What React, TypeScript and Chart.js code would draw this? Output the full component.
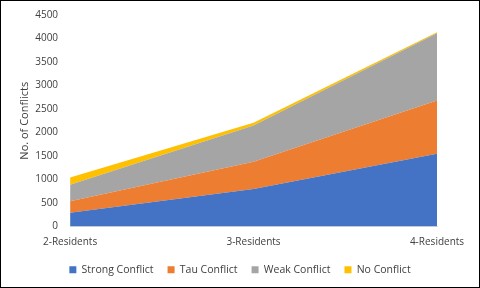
import React, { useEffect, useRef } from "react";
import { Chart, registerables } from "chart.js";

Chart.register(...registerables);

const categories = ["2-Residents", "3-Residents", "4-Residents"];
const strongConflict = [295, 800, 1550];
const tauConflict = [240, 580, 1130];
const weakConflict = [355, 770, 1430];
const noConflict = [150, 60, 25];
const yTicks = [0, 500, 1000, 1500, 2000, 2500, 3000, 3500, 4000, 4500];

const FONT = "'Open Sans', 'Noto Sans', sans-serif";

export default function App() {
  const ref = useRef<HTMLCanvasElement>(null);
  useEffect(() => {
    if (!ref.current) return;
    const mk = (label: string, data: number[], color: string, fill: any) => ({
      label,
      data,
      backgroundColor: color,
      borderColor: color,
      borderWidth: 0,
      pointRadius: 0,
      fill,
      tension: 0,
    });
    const chart = new Chart(ref.current, {
      type: "line",
      data: {
        labels: categories,
        datasets: [
          mk("Strong Conflict", strongConflict, "#4472C4", "origin"),
          mk("Tau Conflict", tauConflict, "#ED7D31", "-1"),
          mk("Weak Conflict", weakConflict, "#A5A5A5", "-1"),
          mk("No Conflict", noConflict, "#FFC000", "-1"),
        ],
      },
      options: {
        animation: false,
        responsive: false,
        maintainAspectRatio: false,
        layout: { padding: { top: 14, right: 0, left: 0, bottom: 2 } },
        plugins: {
          tooltip: { enabled: false },
          legend: {
            position: "bottom",
            labels: {
              boxWidth: 7,
              boxHeight: 7,
              padding: 14,
              color: "#404040",
              font: { family: FONT, size: 10.5 },
            },
          },
        },
        scales: {
          x: {
            offset: false,
            grid: { display: false },
            border: { display: true, color: "#D9D9D9" },
            ticks: {
              color: "#404040",
              font: { family: FONT, size: 10 },
              maxRotation: 0,
              padding: 2,
            },
            afterFit: (s: any) => {
              s.paddingRight = 42;
            },
          },
          y: {
            stacked: true,
            min: 0,
            max: 4500,
            afterBuildTicks: (axis: any) => {
              axis.ticks = yTicks.map((v) => ({ value: v }));
            },
            grid: { display: false },
            border: { display: false },
            ticks: {
              color: "#404040",
              font: { family: FONT, size: 10 },
              padding: 4,
              callback: (v: any) => String(v),
            },
            title: {
              display: true,
              text: "No. of Conflicts",
              color: "#404040",
              font: { family: FONT, size: 11 },
              padding: { top: 17, bottom: 0 },
            },
          },
        },
      },
    });
    return () => chart.destroy();
  }, []);
  return (
    <div
      style={{
        position: "fixed",
        left: 0,
        top: 0,
        width: 480,
        height: 288,
        boxSizing: "border-box",
        border: "1px solid #000",
        background: "#fff",
      }}
    >
      <canvas ref={ref} width={478} height={286} style={{ display: "block" }} />
    </div>
  );
}
